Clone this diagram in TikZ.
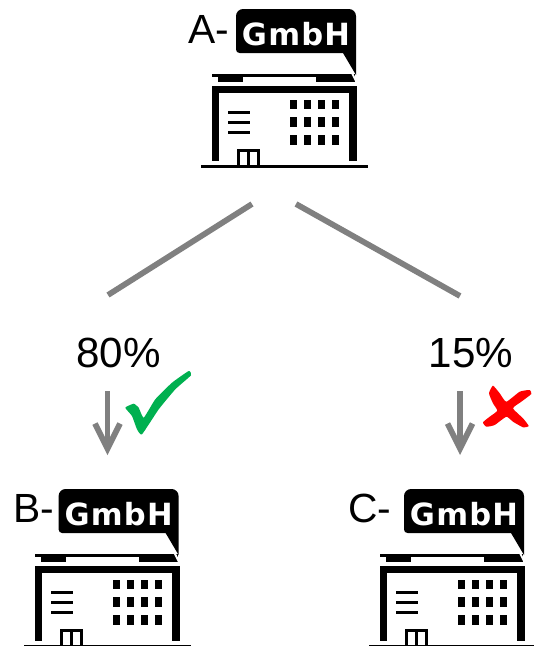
\documentclass[tikz,border=0pt]{standalone}
\usepackage{fontspec}
\setmainfont{Liberation Sans}
\newfontfamily\tagfont[LetterSpace=4]{DejaVu Sans}
\usetikzlibrary{positioning, arrows.meta}

\begin{document}
\begin{tikzpicture}[
    x=0.02cm, y=-0.02cm,
    company/.style={anchor=base west, inner sep=0pt, font=\fontsize{23.2pt}{26pt}\selectfont},
    share/.style={anchor=base, inner sep=0pt, font=\fontsize{24pt}{26pt}\selectfont},
    tagtext/.style={anchor=base, inner sep=0pt, text=white, font=\fontsize{17.4pt}{20pt}\tagfont\bfseries},
    link/.style={draw=linkgray, line width=0.115cm},
    arr/.style={link, -{Straight Barb[length=0.5cm, width=0.5cm]}},
    building/.pic={
        % Speech bubble
        \fill (107,44) [rounded corners=2] -- (0,44) [rounded corners=4] -- (0,0) -- (120,0)
            [sharp corners] -- (120,66) -- cycle;
        \node[tagtext] (-tag) at (60,36) {GmbH};
        % Roof
        \fill (-24,65) rectangle (119,68);
        \fill (-18,68) rectangle (7,73);
        \fill (80,68) rectangle (119,73);
        \draw[white, line width=0.04cm] (112,56) -- (121,74);
        % Walls
        \fill (-24,77) rectangle (121,84);
        \fill (-24,84) rectangle (-17,152);
        \fill (113,84) rectangle (121,152);
        \fill (-35,156) rectangle (132,159);
        % Door
        \draw[line width=0.06cm] (2.5,156) -- (2.5,141.5) -- (22.5,141.5) -- (22.5,156);
        \draw[line width=0.06cm] (12.5,141) -- (12.5,156);
        % Sign
        \foreach \y in {102,112,122} \fill (-8,\y) rectangle (14,\y+3);
        % Windows
        \foreach \x in {54,68,82,96}
            \foreach \y/\h in {91/9,108/10,126/10}
                \fill (\x,\y) rectangle (\x+7,\y+\h);
    }
]
\definecolor{linkgray}{HTML}{808080}
\definecolor{okgreen}{HTML}{00B050}
\useasboundingbox (0,0) rectangle (534,646);

% Companies
\pic (a) at (236,9) {building};
\pic (b) at (58.6,489) {building};
\pic (c) at (404,489) {building};
\node[company] (alabel) at (188,43) {A-};
\node[company] (blabel) at (13,522) {B-};
\node[company] (clabel) at (348,522) {C-};

% Shares
\node[share] (pleft) at (118.5,367) {80\%};
\node[share] (pright) at (471,367) {15\%};

% Branches
\coordinate (topleft) at (252,204);
\coordinate (topright) at (296,204);
\coordinate (midleft) at (108,295);
\coordinate (midright) at (460,296);
\draw[link] (topleft) -- (midleft);
\draw[link] (topright) -- (midright);

% Arrows
\coordinate (arrleft) at (107.5,391);
\coordinate (tipleft) at (107.5,455);
\coordinate (arrright) at (460,391);
\coordinate (tipright) at (460,455);
\draw[arr] (arrleft) -- (tipleft);
\draw[arr] (arrright) -- (tipright);

% Marks
\fill[okgreen] plot[smooth cycle, tension=.25] coordinates {(125.3,407.7) (133.7,403.7) (138.7,407.7)
    (143.7,417.7) (155.3,399.3) (172,382.7) (188.7,371) (191,375.3) (175.3,389.3) (158.7,409.3)
    (142,434.3) (137,429.3) (132,416)};
\fill[red] plot[smooth cycle, tension=.3] coordinates {(493,385.7) (489,393.3) (493,403.3) (497.3,410.7)
    (489.7,416.7) (483,422.3) (486.3,426.7) (494.7,425) (506.3,416.7) (513,421.7) (523,427.3)
    (528.7,426) (523,418.3) (513,408.3) (521.3,401.7) (531.3,394) (529.7,390) (519.7,391.7)
    (506.3,401.7) (499.7,393.3)};

\end{tikzpicture}
\end{document}
